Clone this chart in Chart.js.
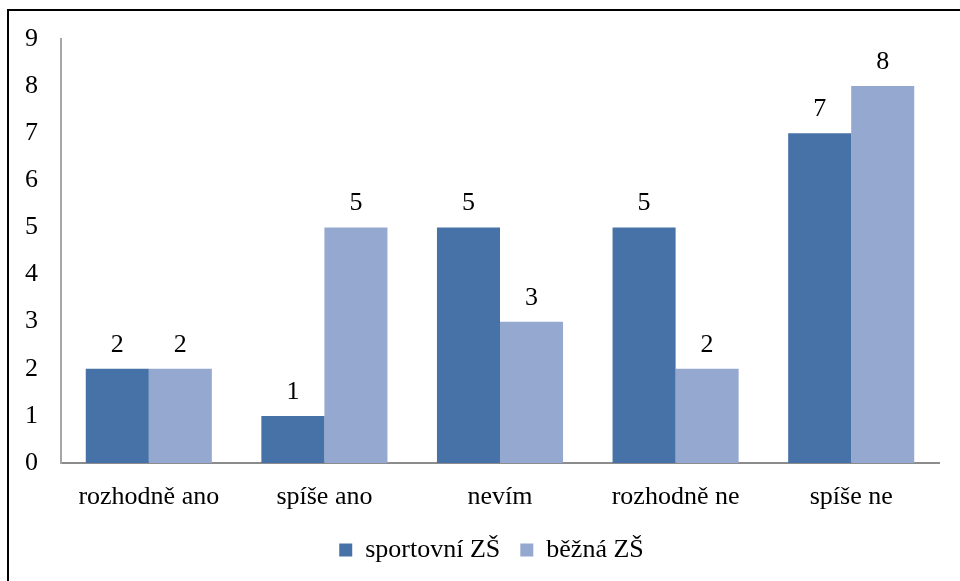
<!DOCTYPE html>
<html>
<head>
<meta charset="utf-8">
<script src="https://cdn.jsdelivr.net/npm/chart.js@4"></script>
<style>
  html, body { margin: 0; padding: 0; background: #fff; }
  #wrap { width: 960px; height: 581px; position: relative; }
</style>
</head>
<body>
<div id="wrap"><canvas id="c" width="960" height="581"></canvas></div>
<script>
const categories = ['rozhodně ano', 'spíše ano', 'nevím', 'rozhodně ne', 'spíše ne'];
const sportovni = [2, 1, 5, 5, 7];
const bezna = [2, 5, 3, 2, 8];
const seriesNames = ['sportovní ZŠ', 'běžná ZŠ'];
const yTicks = [0, 1, 2, 3, 4, 5, 6, 7, 8, 9];

const FONT = '"Liberation Serif", "Times New Roman", serif';
const FS = 26;

const frame = {
  id: 'frame',
  afterLayout(chart) {
    if (chart.legend) { chart.legend.left += 22; chart.legend.right += 22; }
  },
  afterDraw(chart) {
    const ctx = chart.ctx;
    ctx.save();
    ctx.strokeStyle = '#000';
    ctx.lineWidth = 2;
    ctx.beginPath();
    ctx.moveTo(8, 600);
    ctx.lineTo(8, 10);
    ctx.lineTo(970, 10);
    ctx.stroke();
    ctx.restore();
  }
};

const valueLabels = {
  id: 'valueLabels',
  afterDatasetsDraw(chart) {
    const ctx = chart.ctx;
    ctx.save();
    ctx.font = FS + 'px ' + FONT;
    ctx.fillStyle = '#000';
    ctx.textAlign = 'center';
    ctx.textBaseline = 'alphabetic';
    chart.data.datasets.forEach((ds, i) => {
      chart.getDatasetMeta(i).data.forEach((bar, j) => {
        ctx.fillText(String(ds.data[j]), bar.x, bar.y - 17);
      });
    });
    ctx.restore();
  }
};

new Chart(document.getElementById('c'), {
  type: 'bar',
  data: {
    labels: categories,
    datasets: [
      { label: seriesNames[0], data: sportovni, backgroundColor: '#4672A7' },
      { label: seriesNames[1], data: bezna, backgroundColor: '#95A9D0' }
    ]
  },
  options: {
    responsive: false,
    animation: false,
    devicePixelRatio: 1,
    layout: { padding: { left: 0, top: 39, right: 21, bottom: 8 } },
    datasets: { bar: { barPercentage: 1, categoryPercentage: 0.718 } },
    scales: {
      x: {
        grid: { display: false, drawTicks: false },
        border: { display: true, color: '#8C8C8C', width: 2 },
        ticks: { color: '#000', font: { family: FONT, size: FS }, padding: 19, maxRotation: 0 },
        afterFit(s) { s.height = 54; }
      },
      y: {
        min: 0, max: 9,
        grid: { display: false, drawTicks: false },
        border: { display: true, color: '#A6A6A6', width: 2 },
        afterBuildTicks(s) { s.ticks = yTicks.map(v => ({ value: v })); },
        ticks: { color: '#000', font: { family: FONT, size: FS }, padding: 23 },
        afterFit(s) { s.width = 61; }
      }
    },
    plugins: {
      legend: {
        position: 'bottom',
        labels: {
          color: '#000',
          font: { family: FONT, size: FS },
          boxWidth: 13, boxHeight: 13,
          padding: 20
        }
      },
      tooltip: { enabled: false }
    }
  },
  plugins: [frame, valueLabels]
});
</script>
</body>
</html>
